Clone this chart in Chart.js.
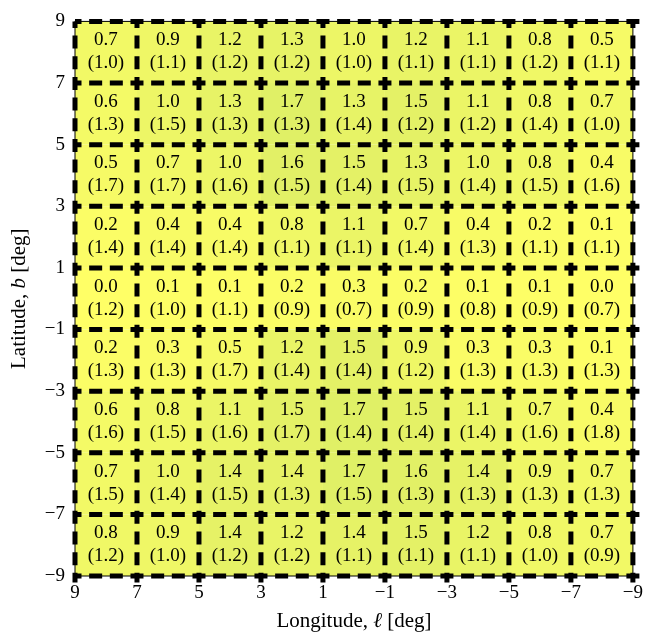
<!DOCTYPE html>
<html>
<head>
<meta charset="utf-8">
<script src="https://cdn.jsdelivr.net/npm/chart.js@4.4.0/dist/chart.umd.min.js"></script>
<style>
  html, body { margin: 0; padding: 0; background: #fff; }
  #wrap { width: 649px; height: 639px; }
</style>
</head>
<body>
<div id="wrap"><canvas id="chart" width="649" height="639"></canvas></div>
<script>
// cell centres (deg); rows run from top (b = 8) to bottom (b = -8)
const longitudes = [8, 6, 4, 2, 0, -2, -4, -6, -8]
const latitudes = [8, 6, 4, 2, 0, -2, -4, -6, -8]

const values = [
  [0.7, 0.9, 1.2, 1.3, 1.0, 1.2, 1.1, 0.8, 0.5],
  [0.6, 1.0, 1.3, 1.7, 1.3, 1.5, 1.1, 0.8, 0.7],
  [0.5, 0.7, 1.0, 1.6, 1.5, 1.3, 1.0, 0.8, 0.4],
  [0.2, 0.4, 0.4, 0.8, 1.1, 0.7, 0.4, 0.2, 0.1],
  [0.0, 0.1, 0.1, 0.2, 0.3, 0.2, 0.1, 0.1, 0.0],
  [0.2, 0.3, 0.5, 1.2, 1.5, 0.9, 0.3, 0.3, 0.1],
  [0.6, 0.8, 1.1, 1.5, 1.7, 1.5, 1.1, 0.7, 0.4],
  [0.7, 1.0, 1.4, 1.4, 1.7, 1.6, 1.4, 0.9, 0.7],
  [0.8, 0.9, 1.4, 1.2, 1.4, 1.5, 1.2, 0.8, 0.7]
]

const errors = [
  [1.0, 1.1, 1.2, 1.2, 1.0, 1.1, 1.1, 1.2, 1.1],
  [1.3, 1.5, 1.3, 1.3, 1.4, 1.2, 1.2, 1.4, 1.0],
  [1.7, 1.7, 1.6, 1.5, 1.4, 1.5, 1.4, 1.5, 1.6],
  [1.4, 1.4, 1.4, 1.1, 1.1, 1.4, 1.3, 1.1, 1.1],
  [1.2, 1.0, 1.1, 0.9, 0.7, 0.9, 0.8, 0.9, 0.7],
  [1.3, 1.3, 1.7, 1.4, 1.4, 1.2, 1.3, 1.3, 1.3],
  [1.6, 1.5, 1.6, 1.7, 1.4, 1.4, 1.4, 1.6, 1.8],
  [1.5, 1.4, 1.5, 1.3, 1.5, 1.3, 1.3, 1.3, 1.3],
  [1.2, 1.0, 1.2, 1.2, 1.1, 1.1, 1.1, 1.0, 0.9]
]

const xTicks = [9, 7, 5, 3, 1, -1, -3, -5, -7, -9]
const yTicks = [-9, -7, -5, -3, -1, 1, 3, 5, 7, 9]

const serif = "'Liberation Serif', 'DejaVu Serif', serif"

const points = []
latitudes.forEach((b, r) => {
  longitudes.forEach((l, c) => {
    points.push({ x: l, y: b, v: values[r][c], e: errors[r][c] })
  })
})

// summer-like colour map, pale yellow for low values
function cellColor(v) {
  const t = 1 - v / 14
  return `rgb(${Math.round(255 * t)}, ${Math.round(255 * (0.5 + 0.5 * t))}, 102)`
}

function tickText(v) {
  return v < 0 ? "\u2212" + Math.abs(v) : String(v)
}

function cellBox(chart, p) {
  const xs = chart.scales.x
  const ys = chart.scales.y
  const xa = xs.getPixelForValue(p.x + 1)
  const xb = xs.getPixelForValue(p.x - 1)
  const ya = ys.getPixelForValue(p.y + 1)
  const yb = ys.getPixelForValue(p.y - 1)
  return { left: Math.min(xa, xb), top: Math.min(ya, yb), w: Math.abs(xb - xa), h: Math.abs(yb - ya) }
}

// draw text made of pieces with different fonts, centred on (x, y)
function drawParts(ctx, parts, x, y) {
  let total = 0
  parts.forEach(p => { ctx.font = p.font; total += ctx.measureText(p.text).width })
  let cx = x - total / 2
  ctx.textAlign = "left"
  parts.forEach(p => {
    ctx.font = p.font
    ctx.fillText(p.text, cx, y)
    cx += ctx.measureText(p.text).width
  })
}

const cellPlugin = {
  id: "cells",
  beforeDatasetsDraw(chart) {
    const ctx = chart.ctx
    const pts = chart.data.datasets[0].data
    const area = chart.chartArea
    const xs = chart.scales.x
    const ys = chart.scales.y
    ctx.save()

    pts.forEach(p => {
      const b = cellBox(chart, p)
      ctx.fillStyle = cellColor(p.v)
      ctx.fillRect(b.left, b.top, b.w, b.h)
    })

    // thin frame under the dashes
    ctx.strokeStyle = "#000"
    ctx.lineWidth = 1
    ctx.setLineDash([])
    ctx.strokeRect(area.left, area.top, area.right - area.left, area.bottom - area.top)

    // dashed cell edges: three dash periods per cell, dash centred on each corner
    const cellW = Math.abs(xs.getPixelForValue(longitudes[0] + 1) - xs.getPixelForValue(longitudes[0] - 1))
    const period = cellW / 3
    const dash = 13
    ctx.lineWidth = 5
    ctx.setLineDash([dash, period - dash])
    ctx.lineDashOffset = dash / 2
    const xEdges = [longitudes[0] + 1].concat(longitudes.map(l => l - 1))
    const yEdges = [latitudes[0] + 1].concat(latitudes.map(b => b - 1))
    xEdges.forEach(l => {
      const px = xs.getPixelForValue(l)
      ctx.beginPath()
      ctx.moveTo(px, area.top)
      ctx.lineTo(px, area.bottom + dash / 2)
      ctx.stroke()
    })
    yEdges.forEach(b => {
      const py = ys.getPixelForValue(b)
      ctx.beginPath()
      ctx.moveTo(area.left, py)
      ctx.lineTo(area.right + dash / 2, py)
      ctx.stroke()
    })
    ctx.setLineDash([])

    ctx.fillStyle = "#000"
    ctx.font = "19px " + serif
    ctx.textAlign = "center"
    ctx.textBaseline = "middle"
    pts.forEach(p => {
      const b = cellBox(chart, p)
      const cx = b.left + b.w / 2
      const cy = b.top + b.h / 2
      ctx.fillText(p.v.toFixed(1), cx, cy - 12)
      ctx.fillText("(" + p.e.toFixed(1) + ")", cx, cy + 11)
    })
    ctx.restore()
  },
  afterDraw(chart) {
    const ctx = chart.ctx
    const area = chart.chartArea
    const normal = "21px " + serif
    const italic = "italic 21px " + serif
    ctx.save()
    ctx.fillStyle = "#000"
    ctx.textBaseline = "middle"

    drawParts(ctx, [
      { text: "Longitude, ", font: normal },
      { text: "\u2113", font: italic },
      { text: " [deg]", font: normal }
    ], (area.left + area.right) / 2, 621)

    ctx.translate(19, (area.top + area.bottom) / 2)
    ctx.rotate(-Math.PI / 2)
    drawParts(ctx, [
      { text: "Latitude, ", font: normal },
      { text: "b", font: italic },
      { text: " [deg]", font: normal }
    ], 0, 0)
    ctx.restore()
  }
}

new Chart(document.getElementById("chart"), {
  type: "scatter",
  data: {
    datasets: [{
      data: points,
      pointRadius: 0,
      pointHoverRadius: 0
    }]
  },
  options: {
    responsive: false,
    animation: false,
    events: [],
    layout: {
      padding: { top: 14, right: 12, left: 0, bottom: 0 }
    },
    plugins: {
      legend: { display: false },
      tooltip: { enabled: false }
    },
    scales: {
      x: {
        type: "linear",
        reverse: true,
        min: -9,
        max: 9,
        afterBuildTicks: scale => { scale.ticks = xTicks.map(v => ({ value: v })) },
        afterFit: scale => { scale.height = 63 },
        grid: { display: false, drawTicks: false },
        border: { display: false },
        ticks: {
          color: "#000",
          padding: 6,
          maxRotation: 0,
          autoSkip: false,
          font: { family: serif, size: 19 },
          callback: v => tickText(v)
        }
      },
      y: {
        type: "linear",
        min: -9,
        max: 9,
        afterBuildTicks: scale => { scale.ticks = yTicks.map(v => ({ value: v })) },
        afterFit: scale => { scale.width = 75 },
        grid: { display: false, drawTicks: false },
        border: { display: false },
        ticks: {
          color: "#000",
          padding: 10,
          autoSkip: false,
          font: { family: serif, size: 19 },
          callback: v => tickText(v)
        }
      }
    }
  },
  plugins: [cellPlugin]
})
</script>
</body>
</html>
